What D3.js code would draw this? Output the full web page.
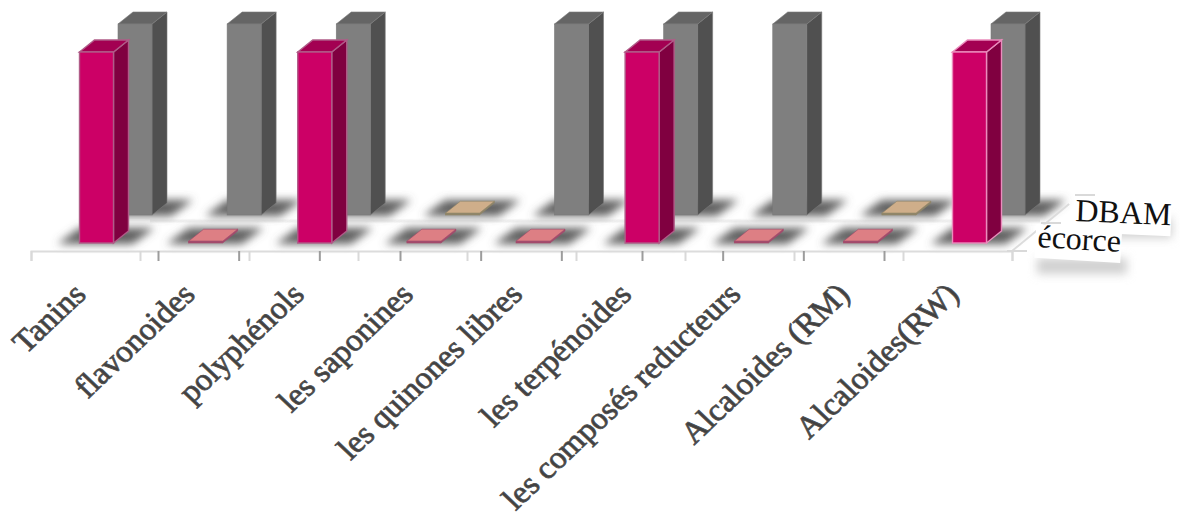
<!DOCTYPE html>
<html lang="fr">
<head>
<meta charset="utf-8">
<title>Screening phytochimique</title>
<script src="https://cdn.jsdelivr.net/npm/d3@7/dist/d3.min.js"></script>
<style>
  html, body { margin: 0; padding: 0; background: #fff; }
  svg { display: block; }
  text { font-family: "Liberation Serif", serif; }
</style>
</head>
<body>
<svg id="chart" width="1180" height="518"></svg>
<script>
// Presence (1) or absence (0) of each compound family, per extract
const categories = ["Tanins", "flavonoides", "polyphénols", "les saponines", "les quinones libres",
  "les terpénoides", "les composés reducteurs", "Alcaloides (RM)", "Alcaloides(RW)"];
const ecorce = [1, 0, 1, 0, 0, 1, 0, 0, 1];
const dbam = [1, 1, 1, 0, 1, 1, 1, 0, 1];
const seriesNames = ["écorce", "DBAM"];

const svg = d3.select("#chart");
const W = 34, DX = 15, DY = 12;         // front face width and oblique depth of a column
const FLOOR = 1.8;                      // thickness of an empty column

const x = d3.scalePoint().domain(categories).range([79.5, 952.5]);
const h = d3.scaleLinear().domain([0, 1]).range([0, 191]);

const rows = [
  { name: seriesNames[1], values: dbam, dx: 38.5, base: 215,
    front: "#7f7f7f", side: "#505050", top: "#656565", edge: "#7a7a7a",
    flatTop: "#cfae8a", flatEdge: "#8f8568" },
  { name: seriesNames[0], values: ecorce, dx: 0, base: 243,
    front: "#cc0066", side: "#800040", top: "#a30052", edge: "#b05c88",
    flatTop: "#dd7f84", flatEdge: "#a34a6c" }
];

const defs = svg.append("defs");
const blur = (id, sd) => defs.append("filter").attr("id", id)
  .attr("filterUnits", "userSpaceOnUse")
  .attr("x", 0).attr("y", 0).attr("width", 1180).attr("height", 518)
  .append("feGaussianBlur").attr("stdDeviation", sd);
blur("soft", 4.5);
blur("softer", 5);

const pts = a => a.map(p => p.join(",")).join(" ");

// Floor axis and its two sets of ticks
const axisY = 251;
const bandTicks = d3.scaleLinear().domain([0, 9]).range([31, 1012]);
const innerTicks = d3.scaleLinear().domain([0, 9]).range([158, 884]);
const axisG = svg.append("g");
axisG.append("g").attr("transform", `translate(0,${axisY})`)
  .call(d3.axisBottom(bandTicks).ticks(9).tickSize(10).tickFormat(""))
  .call(g => g.select(".domain").attr("stroke", "#dcdcdc").attr("stroke-width", 2))
  .call(g => g.selectAll(".tick line").attr("stroke", "#d9d9d9").attr("stroke-width", 2));
axisG.append("g").attr("transform", `translate(0,${axisY})`)
  .call(d3.axisBottom(innerTicks).ticks(9).tickSize(10).tickFormat(""))
  .call(g => g.select(".domain").remove())
  .call(g => g.selectAll(".tick line").attr("stroke", "#9c9c9c").attr("stroke-width", 2));

// Faint floor divider between the two rows
svg.append("line").attr("x1", 150).attr("x2", 1040).attr("y1", 221).attr("y2", 221)
  .attr("stroke", "#f1f1f1").attr("stroke-width", 3);

// Floor shadows and columns, back row first
rows.forEach(r => {
  const g = svg.append("g").attr("class", "row");
  const left = (d, i) => x(categories[i]) + r.dx;

  g.selectAll(".shadow").data(r.values).join("polygon")
    .attr("class", "shadow")
    .attr("filter", "url(#soft)")
    .attr("fill", "#606060")
    .attr("points", (d, i) => {
      const l = left(d, i);
      return pts([[l - 22, r.base + 1], [l + W + 19, r.base + 1], [l + W + 41, r.base - DY - 3], [l, r.base - DY - 3]]);
    });

  const bar = g.selectAll(".bar").data(r.values).join("g").attr("class", "bar");
  const edge = (d, i) => d === 0 ? r.flatEdge : (r.name === "écorce" && i === 8 ? "#ea8cbc" : r.edge);
  const lw = d => d === 0 ? 0.6 : (r.name === "écorce" ? 1.4 : 0.6);

  bar.append("polygon")
    .attr("fill", d => d === 0 ? r.flatEdge : r.side)
    .attr("stroke", edge).attr("stroke-width", lw)
    .attr("points", (d, i) => {
      const l = left(d, i), t = r.base - Math.max(h(d), FLOOR);
      return pts([[l + W, r.base], [l + W + DX, r.base - DY], [l + W + DX, t - DY], [l + W, t]]);
    });
  bar.append("polygon")
    .attr("fill", d => d === 0 ? r.flatTop : r.top)
    .attr("stroke", edge).attr("stroke-width", lw)
    .attr("points", (d, i) => {
      const l = left(d, i), t = r.base - Math.max(h(d), FLOOR);
      return pts([[l, t], [l + W, t], [l + W + DX, t - DY], [l + DX, t - DY]]);
    });
  bar.append("rect")
    .attr("x", left)
    .attr("y", d => r.base - Math.max(h(d), FLOOR))
    .attr("width", W)
    .attr("height", d => Math.max(h(d), FLOOR))
    .attr("fill", d => d === 0 ? r.flatEdge : r.front)
    .attr("stroke", edge).attr("stroke-width", lw);
});

// Category labels, slanted and ending under their column
const labelAxis = d3.scalePoint().domain(categories).range([87, 960]);
svg.append("g").attr("transform", "translate(0,296)")
  .call(d3.axisBottom(labelAxis).tickSize(0))
  .call(g => g.select(".domain").remove())
  .call(g => g.selectAll("text")
    .attr("font-family", '"Liberation Serif", serif')
    .attr("font-size", 33)
    .attr("fill", "#404040")
    .attr("stroke", "#505050")
    .attr("stroke-width", 0.9)
    .attr("text-anchor", "end")
    .attr("dy", 0).attr("y", 0).attr("x", 0)
    .attr("transform", "scale(1,0.95) rotate(-45)"));

// Series names on small white cards with a soft drop shadow
const legend = [
  { name: seriesNames[1], x: 1075, y: 221, angle: 2.6, w: 96, sx: 1090, sy: 218, sw: 82, sh: 20 },
  { name: seriesNames[0], x: 1037, y: 247, angle: 3.4, w: 84, sx: 1037, sy: 258, sw: 90, sh: 16 }
];
legend.forEach(l => {
  svg.append("rect").attr("x", l.sx).attr("y", l.sy).attr("width", l.sw).attr("height", l.sh)
    .attr("fill", "#d0d0d0").attr("filter", "url(#softer)");
});

// Depth axis running back towards the series names
const depth = d3.scalePoint().domain(["front", ...seriesNames]).range([0, 1]);
const depthPos = t => [1012 + 68 * t, axisY - 56 * t];
axisG.raise();
axisG.append("line").attr("x1", depthPos(0)[0]).attr("y1", depthPos(0)[1])
  .attr("x2", depthPos(0.84)[0]).attr("y2", depthPos(0.84)[1])
  .attr("stroke", "#dcdcdc").attr("stroke-width", 2);
axisG.selectAll(".depthTick").data(depth.domain()).join("line")
  .attr("x1", d => depthPos(depth(d))[0] - 5)
  .attr("x2", d => depthPos(depth(d))[0] + 15)
  .attr("y1", d => depthPos(depth(d))[1])
  .attr("y2", d => depthPos(depth(d))[1])
  .attr("stroke", "#d9d9d9").attr("stroke-width", 2);

legend.forEach(l => {
  const g = svg.append("g").attr("transform", `translate(${l.x},${l.y}) rotate(${l.angle})`);
  g.append("rect").attr("x", -2).attr("y", -23).attr("width", l.w + 2).attr("height", 34).attr("fill", "#fff");
  g.append("text").attr("font-size", 32).attr("fill", "#111").text(l.name);
});
</script>
</body>
</html>
